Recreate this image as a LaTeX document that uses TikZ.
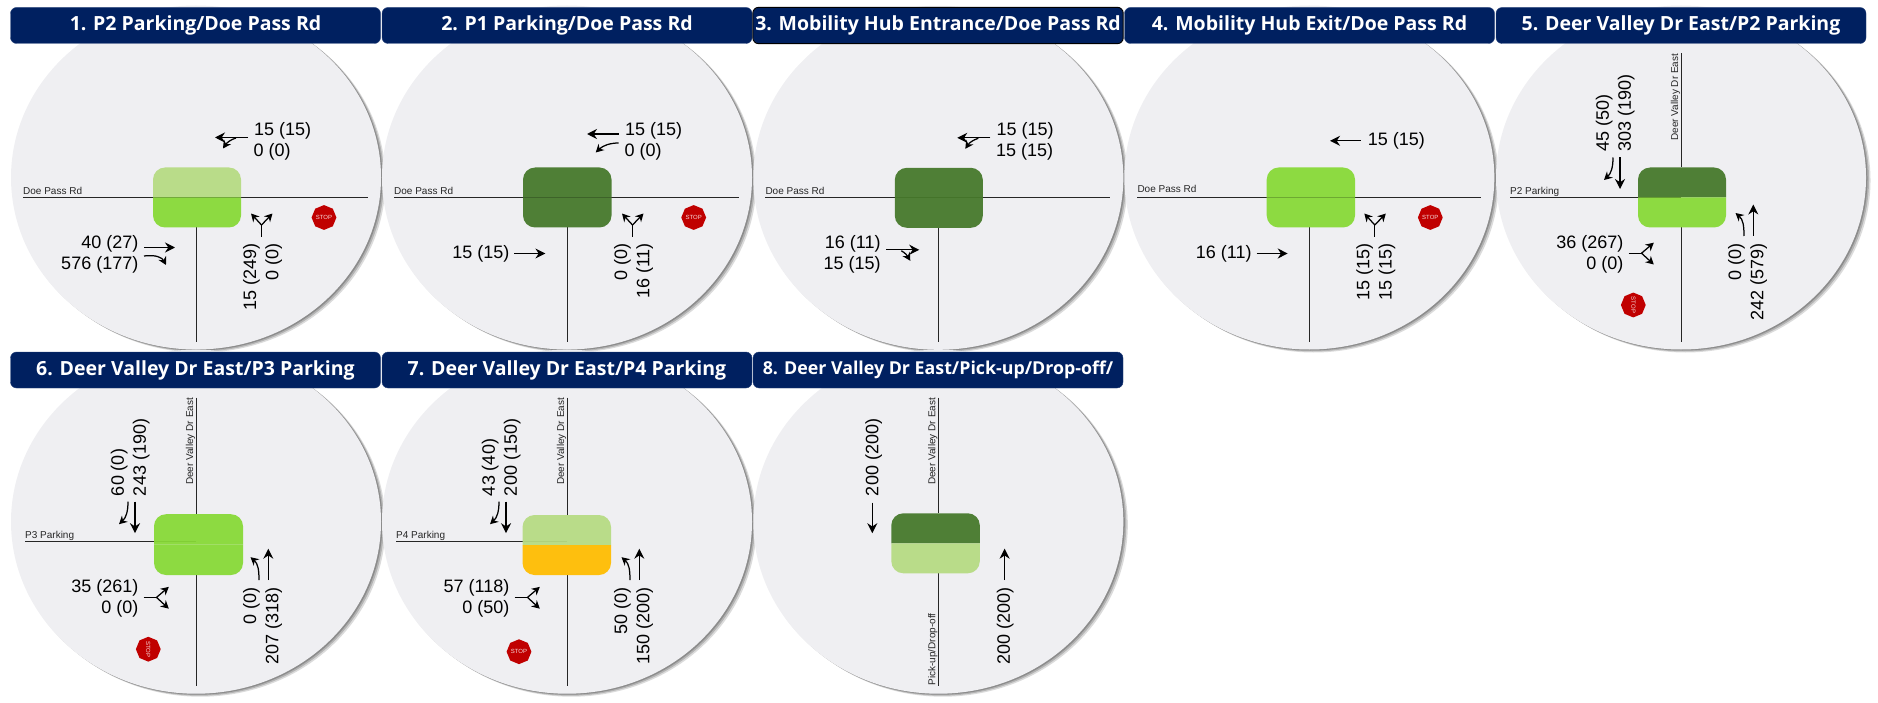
\documentclass[tikz,border=0pt]{standalone}
\usepackage{fontspec}
\setmainfont{Liberation Sans}
\newfontfamily\titlefont{Open Sans}
\usetikzlibrary{arrows.meta,shapes.geometric,shadows}
\definecolor{navy}{HTML}{002060}
\definecolor{discgray}{HTML}{EFEFF2}
\definecolor{lightgreen}{HTML}{B6DB83}
\definecolor{brightgreen}{HTML}{87D936}
\definecolor{darkgreen}{HTML}{46792B}
\definecolor{amber}{HTML}{FFBD00}
\definecolor{stopred}{HTML}{C00000}
\tikzset{
  disc/.style = {ellipse,fill=discgray,minimum width=370pt,minimum height=344pt,inner sep=0pt,
    drop shadow={shadow xshift=4.5pt,shadow yshift=-3pt,opacity=.14,fill=black},
    drop shadow={shadow xshift=3pt,shadow yshift=-2pt,opacity=.18,fill=black},
    drop shadow={shadow xshift=1.5pt,shadow yshift=-1pt,opacity=.22,fill=black}},
  titlebar/.style = {rectangle,rounded corners=6pt,fill=navy,draw=navy!85!white,text=white,minimum width=370pt,
    minimum height=36pt,inner sep=0pt,font=\titlefont\bfseries\fontsize{19.5}{20}\selectfont},
  road/.style = {draw=black!85,line width=1pt},
  roadname/.style = {inner sep=0pt,text=black!85,font=\fontsize{10}{10}\selectfont},
  vol/.style = {inner sep=0pt,font=\fontsize{18}{18}\selectfont},
  volup/.style = {vol,rotate=90,anchor=east},
  mv/.style = {line width=1.25pt,-{Stealth[length=10pt,width=10pt]}},
  fk/.style = {line width=1.25pt,-{Stealth[length=8pt,width=8.5pt]}},
  stopsign/.style = {regular polygon,regular polygon sides=8,shape border rotate=22.5,fill=stopred,minimum size=23.8pt,
    inner sep=0pt,text=white!85!stopred,font=\fontsize{6}{6}\selectfont}
}
% #1 top colour, #2 bottom colour, then left, right, top, split, bottom
\newcommand{\signalbox}[7]{
  \fill[#1,fill opacity=.94] (#3,#6) [rounded corners=12pt] -- (#3,#5) -- (#4,#5) [sharp corners] -- (#4,#6) -- cycle;
  \fill[#2,fill opacity=.94] (#3,#6) [rounded corners=12pt] -- (#3,#7) -- (#4,#7) [sharp corners] -- (#4,#6) -- cycle;
}
\newcommand{\roadwest}[1]{\draw[road] (#1,0) -- (0,0);}
\newcommand{\roadeast}{\draw[road] (0,0) -- (172,0);}
\newcommand{\roadnorth}[1]{\draw[road] (0,-144) -- (0,#1);}
\newcommand{\roadsouth}[1]{\draw[road] (0,#1) -- (0,144);}
\newcommand{\westname}[2]{\node[roadname,anchor=base west] (westname) at (#1,-3) {#2};}
\newcommand{\northname}[1]{\node[roadname,rotate=90,anchor=base east] (northname) at (-3,-144) {#1};}
% volume labels
\newcommand{\volwest}[2]{
  \node[vol,anchor=west] (wbA) at (58,-66.5) {#1};
  \node[vol,anchor=west] (wbB) at (57.5,-45.5) {#2};
}
\newcommand{\voleast}[2]{
  \node[vol,anchor=east] (ebA) at (-57.5,46.5) {#1};
  \node[vol,anchor=east] (ebB) at (-57.5,67.5) {#2};
}
\newcommand{\volnorth}[2]{
  \node[volup] (nbA) at (55.5,45.5) {#1};
  \node[volup] (nbB) at (77.7,45.5) {#2};
}
\newcommand{\volsouth}[2]{
  \node[vol,rotate=90,anchor=west] (sbA) at (-76.7,-45.5) {#1};
  \node[vol,rotate=90,anchor=west] (sbB) at (-54.8,-45.5) {#2};
}
% movement glyphs
\newcommand{\westpair}{
  \draw[mv] (52,-60) -- (19,-60);
  \draw[fk] (40,-59.5) .. controls (35,-58) and (31,-55) .. (27,-49);
}
\newcommand{\northfork}{
  \draw[line width=1.25pt] (65.5,39.5) -- (65.5,27.5);
  \draw[fk] (65.5,27.5) -- (55,16);
  \draw[fk] (65.5,27.5) -- (76.5,16);
}
\newcommand{\eastfork}{
  \draw[line width=1.25pt] (-52.5,55.7) -- (-39.5,55.7);
  \draw[fk] (-39.5,55.7) -- (-27.2,45.2);
  \draw[fk] (-39.5,55.7) -- (-27.2,67);
}
\newcommand{\southpair}{
  \draw[mv] (-61,-40) -- (-61,-8.5);
  \draw[fk] (-68,-40) .. controls (-68,-30) and (-70,-24) .. (-77,-17.5);
}
\newcommand{\northpair}{
  \draw[mv] (72.3,38.5) -- (72.3,7);
  \draw[fk] (63,38.5) .. controls (63,28) and (62,22) .. (54.5,15.5);
}
\begin{document}
\begin{tikzpicture}[x=1pt,y=-1pt]
\useasboundingbox (0,0) rectangle (1878,703);
\foreach \cx/\cy [count=\n] in {196/197.5, 567/197.5, 938.3/197.8, 1309.3/197.5, 1681/197.5, 196/541.7, 567/541.7, 938.3/541.7}
    \node[disc] (disc\n) at (\cx, \cy - 20) {};
% 1
\begin{scope}[shift={(196,197.5)},name prefix=p1-]
\roadwest{-173} \roadeast \roadsouth{30}
\westname{-173}{Doe Pass Rd}
\signalbox{lightgreen}{brightgreen}{-43}{45}{-30}{0}{30}
\westpair
\volwest{15 (15)}{0 (0)}
\draw[mv] (-52,50) -- (-21,50);
\draw[fk] (-52,58.5) .. controls (-40,57) and (-34,60) .. (-30,67.5);
\voleast{40 (27)}{576 (177)}
\northfork
\volnorth{15 (249)}{0 (0)}
\node[stopsign] (stop) at (128,20) {STOP};
\end{scope}
% 2
\begin{scope}[shift={(567,197.5)},name prefix=p2-]
\roadwest{-173} \roadeast \roadsouth{30}
\westname{-173}{Doe Pass Rd}
\signalbox{darkgreen}{darkgreen}{-44}{44.5}{-30}{0}{30}
\draw[mv] (51.7,-63.5) -- (20,-63.5);
\draw[fk] (51.7,-54.5) .. controls (43,-54.5) and (36,-52) .. (28.7,-45);
\volwest{15 (15)}{0 (0)}
\draw[mv] (-52.6,56) -- (-21.6,56);
\node[vol,anchor=east] (ebA) at (-57.5,56) {15 (15)};
\northfork
\volnorth{0 (0)}{16 (11)}
\node[stopsign] (stop) at (126.7,20) {STOP};
\end{scope}
% 3
\begin{scope}[shift={(938.3,197.8)},name prefix=p3-]
\roadwest{-173} \roadeast \roadsouth{30}
\westname{-173}{Doe Pass Rd}
\signalbox{darkgreen}{darkgreen}{-43.5}{44.5}{-30}{0}{30}
\westpair
\volwest{15 (15)}{15 (15)}
\draw[mv] (-52,52) -- (-19,52);
\draw[fk] (-37,53) .. controls (-33,55) and (-31,58) .. (-28,63);
\voleast{16 (11)}{15 (15)}
\end{scope}
% 4
\begin{scope}[shift={(1309.3,197.5)},name prefix=p4-]
\roadwest{-172} \roadeast \roadsouth{30}
\node[roadname,anchor=base west] (westname) at (-172,-4.5) {Doe Pass Rd};
\signalbox{brightgreen}{brightgreen}{-42.6}{45.7}{-30}{0}{30}
\draw[mv] (51.4,-56.7) -- (20.7,-56.7);
\node[vol,anchor=west] (wbA) at (58.4,-56.7) {15 (15)};
\draw[mv] (-52.6,56) -- (-21.6,56);
\node[vol,anchor=east] (ebA) at (-57.5,56) {16 (11)};
\northfork
\volnorth{15 (15)}{15 (15)}
\node[stopsign] (stop) at (121,20) {STOP};
\end{scope}
% 5
\begin{scope}[shift={(1681,197.5)},name prefix=p5-]
\roadwest{-171} \roadnorth{-30} \roadsouth{30}
\westname{-171}{P2 Parking}
\northname{Deer Valley Dr East}
\signalbox{darkgreen}{brightgreen}{-43}{45}{-30}{0}{30}
\southpair
\volsouth{45 (50)}{303 (190)}
\eastfork
\voleast{36 (267)}{0 (0)}
\northpair
\volnorth{0 (0)}{242 (579)}
\node[stopsign,rotate=-90] (stop) at (-47.7,107.5) {STOP};
\end{scope}
% 6
\begin{scope}[shift={(196,541.7)},name prefix=p6-]
\roadwest{-171} \roadnorth{-27.5} \roadsouth{33.3}
\westname{-171}{P3 Parking}
\northname{Deer Valley Dr East}
\signalbox{brightgreen}{brightgreen}{-42}{47}{-27.5}{2.7}{33.3}
\southpair
\volsouth{60 (0)}{243 (190)}
\eastfork
\voleast{35 (261)}{0 (0)}
\northpair
\volnorth{0 (0)}{207 (318)}
\node[stopsign,rotate=-90] (stop) at (-47.7,107.5) {STOP};
\end{scope}
% 7
\begin{scope}[shift={(567,541.7)},name prefix=p7-]
\roadwest{-171} \roadnorth{-26.7} \roadsouth{33.3}
\westname{-171}{P4 Parking}
\northname{Deer Valley Dr East}
\signalbox{lightgreen}{amber}{-44.5}{44}{-26.7}{3.3}{33.3}
\southpair
\volsouth{43 (40)}{200 (150)}
\eastfork
\voleast{57 (118)}{0 (50)}
\northpair
\volnorth{50 (0)}{150 (200)}
\node[stopsign] (stop) at (-48,110) {STOP};
\end{scope}
% 8
\begin{scope}[shift={(938.3,541.7)},name prefix=p8-]
\roadnorth{-28.4} \roadsouth{31.6}
\northname{Deer Valley Dr East}
\node[roadname,rotate=90,anchor=base west] (southname) at (-3,144) {Pick-up/Drop-off};
\signalbox{darkgreen}{lightgreen}{-47}{41.5}{-28.4}{1.6}{31.6}
\draw[mv] (-66,-39) -- (-66,-8.5);
\node[vol,rotate=90,anchor=west] (sbA) at (-64.6,-45.5) {200 (200)};
\draw[mv] (66.3,38.5) -- (66.3,7);
\node[volup] (nbA) at (67,45.5) {200 (200)};
\end{scope}
% title bars go on top of the discs
\foreach \cx/\cy/\name [count=\n] in {195.5/25.5/{1. P2 Parking/Doe Pass Rd}, 567/25.5/{2. P1 Parking/Doe Pass Rd},
    938/25.5/{3. Mobility Hub Entrance/Doe Pass Rd}, 1309.5/25.5/{4. Mobility Hub Exit/Doe Pass Rd},
    1681/25.5/{5. Deer Valley Dr East/P2 Parking}, 195.5/370/{6. Deer Valley Dr East/P3 Parking},
    567/370/{7. Deer Valley Dr East/P4 Parking}, 938/370/{\fontsize{17.8}{18}\selectfont 8. Deer Valley Dr East/Pick-up/Drop-off/}}
    \node[titlebar] (title\n) at (\cx, \cy) {\name};
\draw[black,rounded corners=6pt,line width=1pt] (title3.south west) rectangle (title3.north east);
\end{tikzpicture}
\end{document}
